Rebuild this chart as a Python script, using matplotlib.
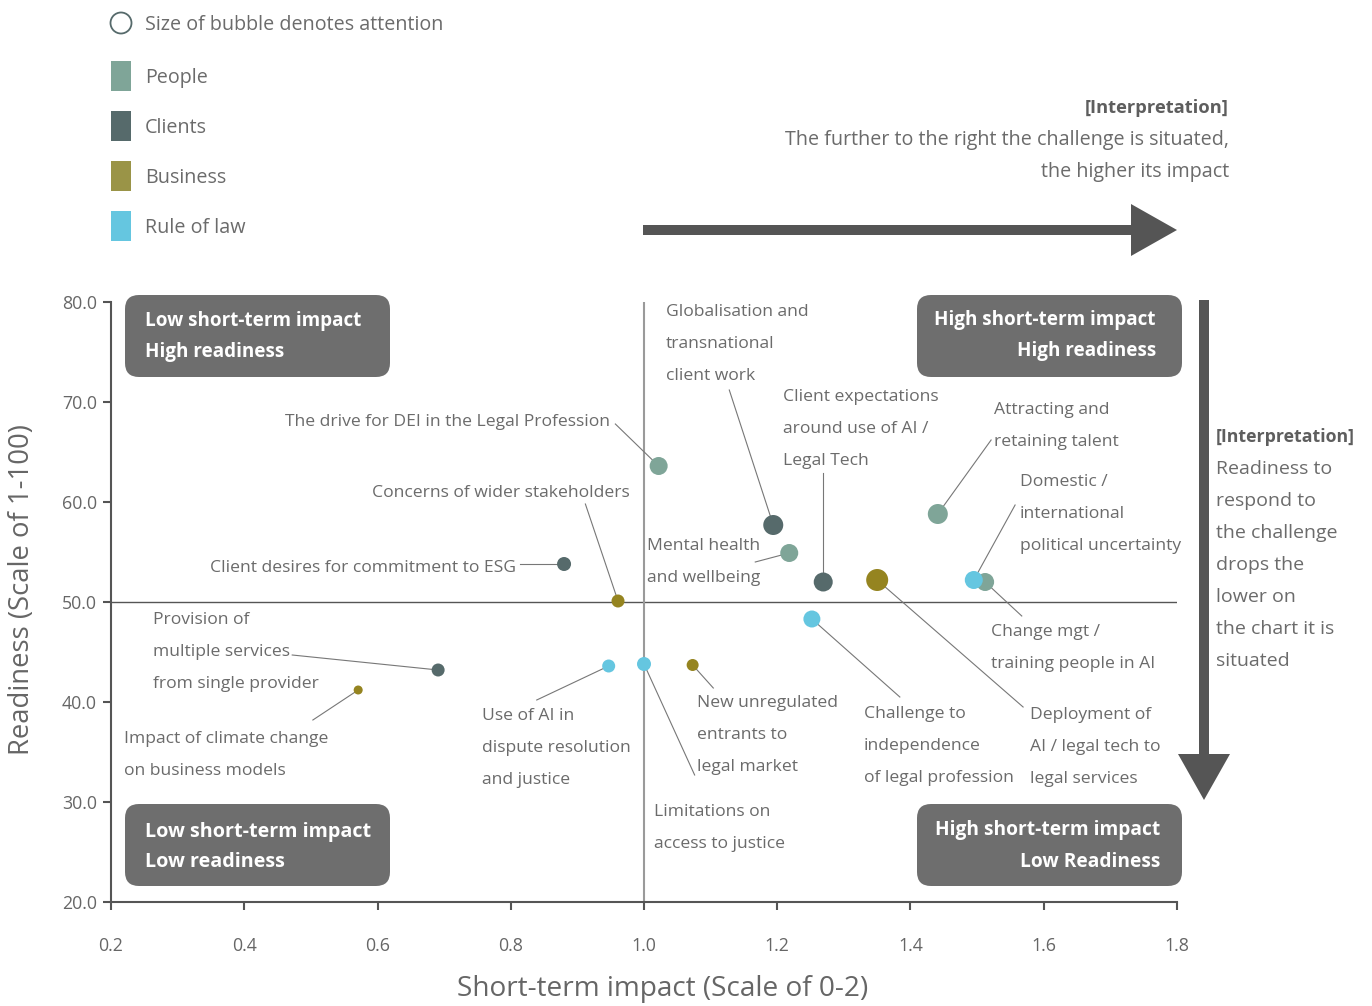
import matplotlib.pyplot as plt
from matplotlib.patches import FancyBboxPatch, FancyArrow, Rectangle, Circle

plt.rcParams['font.family'] = ['Open Sans', 'DejaVu Sans']

# challenges: short-term impact (0-2), readiness (1-100), attention (bubble size), theme
names = [
    "The drive for DEI in the Legal Profession",
    "Globalisation and\ntransnational\nclient work",
    "Client expectations\naround use of AI /\nLegal Tech",
    "Attracting and\nretaining talent",
    "Change mgt /\ntraining people in AI",
    "Domestic /\ninternational\npolitical uncertainty",
    "Mental health\nand wellbeing",
    "Deployment of\nAI / legal tech to\nlegal services",
    "Challenge to\nindependence\nof legal profession",
    "Concerns of wider stakeholders",
    "Client desires for commitment to ESG",
    "Provision of\nmultiple services\nfrom single provider",
    "Impact of climate change\non business models",
    "Use of AI in\ndispute resolution\nand justice",
    "Limitations on\naccess to justice",
    "New unregulated\nentrants to\nlegal market",
]
impact = [1.022, 1.194, 1.269, 1.441, 1.512, 1.495, 1.218, 1.350, 1.252,
          0.961, 0.880, 0.691, 0.571, 0.947, 1.000, 1.073]
readiness = [63.6, 57.7, 52.0, 58.8, 52.0, 52.2, 54.9, 52.2, 48.3,
             50.1, 53.8, 43.2, 41.2, 43.6, 43.8, 43.7]
attention = [18, 20, 19, 20, 18, 18, 18, 22, 17, 13, 14, 13, 9, 13, 14, 12]
theme = ["People", "Clients", "Clients", "People", "People", "Rule of law",
         "People", "Business", "Rule of law", "Business", "Clients", "Clients",
         "Business", "Rule of law", "Rule of law", "Business"]

themes = ["People", "Clients", "Business", "Rule of law"]
theme_colors = {"People": "#7fa598", "Clients": "#566a6b",
                "Business": "#958420", "Rule of law": "#65c6e0"}
swatch_colors = {"People": "#7fa598", "Clients": "#566a6b",
                 "Business": "#9a9447", "Rule of law": "#65c6e0"}

# label anchor (x, y, ha) and leader-line end point, in data units
label_pos = [
    (0.949, 68.0, "right"), (1.033, 75.8, "left"), (1.209, 67.3, "left"),
    (1.525, 67.6, "left"), (1.521, 45.4, "left"), (1.564, 58.8, "left"),
    (1.004, 54.0, "left"), (1.579, 35.5, "left"), (1.330, 35.6, "left"),
    (0.979, 60.9, "right"), (0.808, 53.4, "right"), (0.263, 45.0, "left"),
    (0.219, 34.7, "left"), (0.757, 35.4, "left"), (1.015, 27.4, "left"),
    (1.080, 36.7, "left"),
]
leader_end = [
    (0.957, 67.8), (1.128, 71.2), (1.269, 62.9), (1.521, 66.2), (1.567, 48.6),
    (1.557, 59.7), (1.167, 54.0), (1.569, 39.5), (1.384, 40.5), (0.912, 59.8),
    (0.814, 53.8), (0.472, 44.7), (0.503, 38.2), (0.839, 40.2), (1.076, 32.7),
    (1.104, 41.4),
]

W, H = 1372, 1006
fig = plt.figure(figsize=(W / 100, H / 100), dpi=100)

# overlay in pixel units for legend, arrows, boxes and notes
ov = fig.add_axes([0, 0, 1, 1], zorder=0)
ov.set_xlim(0, W)
ov.set_ylim(H, 0)
ov.axis("off")

ax = fig.add_axes([111 / W, 104 / H, 1066 / W, 600 / H], zorder=1)
ax.patch.set_alpha(0)

txt = "#6b6b6b"
dark = "#555555"

ax.axhline(50, color=dark, lw=1, zorder=1)
ax.axvline(1.0, color="#9a9a9a", lw=1.5, zorder=1)

for i in range(len(names)):
    x, y = impact[i], readiness[i]
    lx, ly = leader_end[i]
    ax.plot([x, lx], [y, ly], color="#777777", lw=0.8, zorder=2)
    ax.scatter(x, y, s=(0.72 * attention[i]) ** 2, color=theme_colors[theme[i]],
               edgecolors="none", zorder=3)
    tx, ty, ha = label_pos[i]
    ax.text(tx, ty, names[i], ha=ha, va="center", fontsize=12.6, color=txt,
            linespacing=2.32, zorder=4)

ax.set_xlim(0.2, 1.8)
ax.set_ylim(20, 80)
ax.set_xticks([0.2, 0.4, 0.6, 0.8, 1.0, 1.2, 1.4, 1.6, 1.8])
ax.set_yticks([20, 30, 40, 50, 60, 70, 80])
ax.xaxis.set_major_formatter(lambda v, p: f"{v:.1f}")
ax.yaxis.set_major_formatter(lambda v, p: f"{v:.1f}")
for s in ["top", "right"]:
    ax.spines[s].set_visible(False)
for s in ["left", "bottom"]:
    ax.spines[s].set_color(dark)
    ax.spines[s].set_linewidth(1.5)
ax.tick_params(axis="both", direction="out", length=6, width=1.5, color=dark,
               labelcolor="#666666", labelsize=12.8)
ax.tick_params(axis="x", pad=19)
ax.tick_params(axis="y", pad=4)

ov.text(663, 989, "Short-term impact (Scale of 0-2)", ha="center", va="center",
        fontsize=20.2, color="#666666")
ov.text(22, 590, "Readiness (Scale of 1-100)", ha="center", va="center",
        rotation=90, fontsize=19.8, color="#666666")

# legend
ov.add_patch(Circle((121, 23), 10.5, facecolor="none", edgecolor="#566a6b", lw=1.3))
ov.text(145, 25, "Size of bubble denotes attention", va="center", fontsize=14.2, color=txt)
for k, th in enumerate(themes):
    yc = 76 + 50 * k
    ov.add_patch(Rectangle((111, yc - 15), 20, 30, color=swatch_colors[th], lw=0))
    ov.text(145, yc + 2, th, va="center", fontsize=14.2, color=txt)

# quadrant boxes
box_col = "#6e6e6e"
boxes = [
    (125, 295, ["Low short-term impact", "High readiness"], "left", 145, (321, 352), 13.6),
    (917, 295, ["High short-term impact", "High readiness"], "right", 1156, (320, 351), 13.6),
    (125, 804, ["Low short-term impact", "Low readiness"], "left", 145, (832, 862), 14.2),
    (917, 804, ["High short-term impact", "Low Readiness"], "right", 1160, (830, 862), 13.8),
]
for bx, by, lines, ha, tx, tys, fs in boxes:
    ov.add_patch(FancyBboxPatch((bx, by), 265, 82,
                                boxstyle="round,pad=0,rounding_size=14",
                                facecolor=box_col, edgecolor="none"))
    for line, ty in zip(lines, tys):
        ov.text(tx, ty, line, ha=ha, va="center", fontsize=fs,
                fontweight="bold", color="white")

# direction arrows
ov.add_patch(FancyArrow(643, 230, 534, 0, width=10, head_width=52, head_length=46,
                        length_includes_head=True, color=dark, lw=0))
ov.add_patch(FancyArrow(1204, 300, 0, 500, width=10, head_width=52, head_length=46,
                        length_includes_head=True, color=dark, lw=0))

ov.text(1229, 108, "[Interpretation]", ha="right", va="center", fontsize=13.2,
        fontweight="bold", color="#5e5e5e")
ov.text(1229, 140, "The further to the right the challenge is situated,",
        ha="right", va="center", fontsize=14.2, color=txt)
ov.text(1229, 172, "the higher its impact", ha="right", va="center",
        fontsize=14.2, color=txt)

right_note = ["Readiness to", "respond to", "the challenge", "drops the",
              "lower on", "the chart it is", "situated"]
ov.text(1216, 437, "[Interpretation]", va="center", fontsize=12.8,
        fontweight="bold", color="#5e5e5e")
for k, line in enumerate(right_note):
    ov.text(1216, 469 + 32 * k, line, va="center", fontsize=14.0, color=txt)

fig.savefig("out.png", dpi=100)
